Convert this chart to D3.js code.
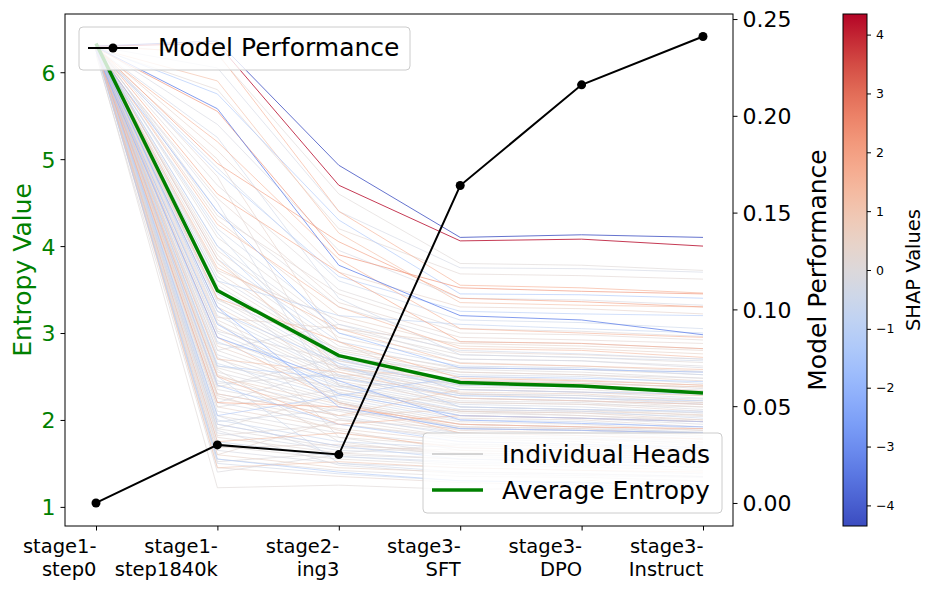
<!DOCTYPE html>
<html>
<head>
<meta charset="utf-8">
<script src="https://cdn.jsdelivr.net/npm/d3@7"></script>
<style>
  body { margin: 0; background: #fff; }
  text { font-family: "DejaVu Sans", sans-serif; }
</style>
</head>
<body>
<svg id="chart" width="933" height="589"></svg>
<script>
// stages on the x axis
const stages = ["stage1-\nstep0", "stage1-\nstep1840k", "stage2-\ning3", "stage3-\nSFT", "stage3-\nDPO", "stage3-\nInstruct"];

// model performance per stage (right axis)
const perfValues = [0.000, 0.030, 0.025, 0.164, 0.216, 0.241];

// mean entropy per stage
const avgEntropy = [6.33, 3.49, 2.74, 2.43, 2.39, 2.31];

// per-head SHAP value, then entropy at each stage
const headShap = [
  0.1, -0.3, 0.2, -0.2, 0.4, -0.5, 0.0, 0.3, -0.1, 0.5,
  -0.4, 0.1, -0.2, 0.2, -0.6, 0.0, 0.4, -0.3, 0.2, -0.1,
  0.3, -0.5, 0.1, -0.2, 0.5, 0.0, -0.4, 0.2, -0.1, 0.3,
  -0.3, 0.1, -0.6, 0.4, 0.0, -0.2, 0.2, -0.5, 0.1, -0.1,
  0.5, -0.3, 0.3, 0.0, -0.4, 0.2, -0.2, 0.4, -0.1, 0.1,
  -0.6, 0.3, 0.0, -0.3, 0.2, -0.5, 0.1, -0.2, 0.5, 0.0,
  -0.4, 0.3, -0.1, 0.1,
  0.2, -0.3, 0.4, -0.2, 0.1, 0.3, -0.5, 0.0, 0.2, -0.1,
  4.3, -4.3, -3.2, 2.4, 1.6, 1.2, -1.4, 1.5, -1.1, 1.8,
  -1.8, 1.3, -1.0, 1.1, -2.2, 1.4, -1.6, 1.0, -1.2, 1.7,
  -0.9, 1.2, -1.3, 0.9, -2.0, 2.0, -0.8, 0.8,
  0.2, -0.3, 0.1, -0.1, 0.4, -0.2, 0.3, 0.0, -0.4, 0.2,
  -0.1, 0.5, -0.5, 0.1, -0.2, 0.3, 0.0, -0.3, 0.4, -0.1,
  0.2, -0.4, 0.1, -0.2,
  1.1, -1.0, 0.9, -1.2, 1.3, -0.9
];

const headEntropy = [
  [6.32, 6.20, 4.60, 3.80, 3.78, 3.72],
  [6.30, 6.05, 4.40, 3.75, 3.74, 3.70],
  [6.28, 5.80, 4.20, 3.68, 3.66, 3.62],
  [6.31, 5.40, 3.95, 3.40, 3.38, 3.32],
  [6.29, 5.10, 3.70, 3.30, 3.28, 3.22],
  [6.27, 4.90, 3.60, 3.15, 3.12, 3.05],
  [6.30, 4.70, 3.50, 3.05, 3.02, 2.96],
  [6.26, 4.55, 3.35, 2.95, 2.92, 2.88],
  [6.31, 4.40, 3.30, 2.90, 2.88, 2.82],
  [6.28, 4.30, 3.20, 2.85, 2.82, 2.76],
  [6.25, 4.20, 3.10, 2.80, 2.76, 2.70],
  [6.30, 4.10, 3.05, 2.75, 2.72, 2.66],
  [6.29, 4.00, 3.00, 2.70, 2.68, 2.60],
  [6.27, 3.95, 2.95, 2.66, 2.62, 2.56],
  [6.32, 3.85, 2.90, 2.62, 2.60, 2.52],
  [6.28, 3.80, 2.85, 2.58, 2.55, 2.48],
  [6.26, 3.70, 2.80, 2.55, 2.52, 2.45],
  [6.30, 3.65, 2.78, 2.52, 2.50, 2.42],
  [6.29, 3.60, 2.75, 2.50, 2.46, 2.40],
  [6.27, 3.55, 2.70, 2.46, 2.44, 2.36],
  [6.31, 3.50, 2.68, 2.44, 2.40, 2.34],
  [6.28, 3.45, 2.65, 2.40, 2.38, 2.30],
  [6.26, 3.40, 2.62, 2.38, 2.35, 2.28],
  [6.30, 3.35, 2.60, 2.35, 2.32, 2.25],
  [6.29, 3.30, 2.58, 2.32, 2.30, 2.22],
  [6.27, 3.25, 2.55, 2.30, 2.28, 2.20],
  [6.32, 3.20, 2.52, 2.28, 2.25, 2.18],
  [6.28, 3.15, 2.50, 2.25, 2.22, 2.15],
  [6.25, 3.10, 2.48, 2.22, 2.20, 2.12],
  [6.30, 3.05, 2.45, 2.20, 2.18, 2.10],
  [6.29, 3.00, 2.42, 2.18, 2.15, 2.08],
  [6.27, 2.95, 2.40, 2.15, 2.12, 2.05],
  [6.31, 2.90, 2.38, 2.12, 2.10, 2.02],
  [6.28, 2.85, 2.35, 2.10, 2.08, 2.00],
  [6.26, 2.80, 2.32, 2.08, 2.05, 1.98],
  [6.30, 2.75, 2.30, 2.05, 2.02, 1.95],
  [6.29, 2.70, 2.28, 2.02, 2.00, 1.92],
  [6.27, 2.65, 2.25, 2.00, 1.98, 1.90],
  [6.32, 2.60, 2.22, 1.98, 1.95, 1.88],
  [6.28, 2.55, 2.20, 1.95, 1.92, 1.85],
  [6.25, 2.50, 2.18, 1.92, 1.90, 1.82],
  [6.30, 2.45, 2.15, 1.90, 1.88, 1.80],
  [6.29, 2.40, 2.12, 1.88, 1.85, 1.78],
  [6.27, 2.35, 2.10, 1.85, 1.82, 1.75],
  [6.31, 2.30, 2.05, 1.82, 1.80, 1.72],
  [6.28, 2.25, 2.00, 1.80, 1.78, 1.70],
  [6.26, 2.20, 1.95, 1.78, 1.75, 1.68],
  [6.30, 2.15, 1.90, 1.75, 1.72, 1.65],
  [6.29, 2.10, 1.85, 1.72, 1.70, 1.62],
  [6.27, 2.05, 1.80, 1.70, 1.68, 1.60],
  [6.32, 2.00, 1.75, 1.68, 1.65, 1.58],
  [6.28, 1.95, 1.70, 1.65, 1.62, 1.55],
  [6.25, 1.90, 1.68, 1.62, 1.60, 1.52],
  [6.30, 1.85, 1.65, 1.60, 1.58, 1.50],
  [6.29, 1.80, 1.62, 1.55, 1.55, 1.48],
  [6.27, 1.75, 1.58, 1.52, 1.50, 1.45],
  [6.31, 1.70, 1.55, 1.48, 1.46, 1.42],
  [6.28, 1.65, 1.50, 1.45, 1.42, 1.38],
  [6.26, 1.60, 1.45, 1.40, 1.38, 1.35],
  [6.30, 1.55, 1.42, 1.35, 1.34, 1.30],
  [6.29, 1.50, 1.38, 1.30, 1.28, 1.26],
  [6.27, 1.45, 1.35, 1.28, 1.25, 1.22],
  [6.20, 1.40, 1.60, 1.55, 1.52, 1.50],
  [6.22, 1.22, 1.25, 1.20, 1.22, 1.20],
  [6.30, 4.80, 2.40, 2.10, 2.05, 2.00],
  [6.28, 4.50, 2.20, 1.90, 1.88, 1.85],
  [6.26, 5.00, 2.90, 2.30, 2.25, 2.20],
  [6.29, 2.20, 2.60, 2.40, 2.38, 2.34],
  [6.27, 1.90, 2.30, 2.20, 2.18, 2.15],
  [6.31, 1.60, 2.00, 1.90, 1.88, 1.85],
  [6.25, 2.50, 1.50, 1.40, 1.38, 1.35],
  [6.30, 3.30, 1.80, 1.60, 1.58, 1.55],
  [6.28, 3.90, 2.50, 2.60, 2.58, 2.55],
  [6.26, 2.80, 3.10, 2.70, 2.68, 2.62],
  [6.30, 6.33, 4.70, 4.06, 4.08, 4.00],
  [6.30, 6.36, 4.93, 4.10, 4.13, 4.10],
  [6.29, 5.58, 3.78, 3.20, 3.15, 2.98],
  [6.28, 5.55, 3.90, 3.52, 3.48, 3.45],
  [6.30, 6.22, 4.40, 3.55, 3.52, 3.46],
  [6.28, 5.90, 4.15, 3.35, 3.32, 3.30],
  [6.29, 5.75, 4.30, 3.45, 3.44, 3.40],
  [6.27, 5.20, 3.85, 3.05, 3.00, 2.95],
  [6.26, 4.85, 3.65, 3.25, 3.22, 3.20],
  [6.30, 4.60, 3.70, 2.90, 2.88, 2.82],
  [6.25, 4.40, 3.00, 2.60, 2.58, 2.55],
  [6.29, 4.25, 3.30, 2.82, 2.80, 2.72],
  [6.28, 4.00, 2.70, 2.35, 2.32, 2.30],
  [6.27, 3.75, 3.05, 2.65, 2.62, 2.58],
  [6.24, 2.95, 2.45, 2.00, 1.96, 1.92],
  [6.31, 3.40, 2.90, 2.48, 2.45, 2.40],
  [6.26, 3.10, 2.30, 2.05, 2.02, 1.98],
  [6.28, 2.70, 2.55, 2.25, 2.22, 2.18],
  [6.30, 2.40, 1.95, 1.75, 1.72, 1.68],
  [6.27, 2.20, 2.15, 1.95, 1.92, 1.90],
  [6.29, 1.95, 1.70, 1.55, 1.52, 1.50],
  [6.26, 1.75, 1.85, 1.68, 1.65, 1.62],
  [6.25, 1.55, 1.40, 1.30, 1.28, 1.25],
  [6.30, 1.45, 1.52, 1.45, 1.42, 1.40],
  [6.28, 3.30, 2.15, 1.90, 1.88, 1.85],
  [6.29, 4.95, 4.05, 3.40, 3.36, 3.30],
  [6.27, 3.60, 3.20, 3.10, 3.05, 3.00],
  [6.30, 2.30, 2.05, 2.35, 2.32, 2.28],
  [6.29, 3.12, 2.20, 1.95, 1.92, 1.88],
  [6.27, 2.88, 2.62, 2.30, 2.28, 2.24],
  [6.31, 2.62, 2.38, 2.45, 2.42, 2.38],
  [6.28, 2.42, 2.52, 2.15, 2.12, 2.08],
  [6.26, 2.28, 1.88, 1.65, 1.62, 1.60],
  [6.30, 3.52, 2.40, 2.05, 2.02, 1.98],
  [6.29, 3.72, 3.15, 2.78, 2.75, 2.70],
  [6.27, 2.15, 2.35, 2.10, 2.08, 2.04],
  [6.32, 1.98, 2.12, 1.92, 1.90, 1.86],
  [6.28, 1.82, 1.95, 1.80, 1.78, 1.74],
  [6.25, 3.02, 2.68, 2.40, 2.38, 2.32],
  [6.30, 2.52, 2.05, 2.12, 2.10, 2.06],
  [6.29, 4.15, 2.60, 2.25, 2.22, 2.18],
  [6.27, 3.38, 2.82, 2.60, 2.58, 2.52],
  [6.31, 2.72, 2.02, 1.85, 1.82, 1.78],
  [6.28, 1.68, 1.72, 1.62, 1.60, 1.58],
  [6.26, 1.52, 1.62, 1.72, 1.70, 1.66],
  [6.30, 2.05, 1.58, 1.50, 1.48, 1.46],
  [6.29, 3.18, 3.05, 2.88, 2.85, 2.80],
  [6.27, 2.38, 2.72, 2.55, 2.52, 2.48],
  [6.32, 4.35, 3.45, 3.00, 2.98, 2.92],
  [6.28, 5.25, 3.40, 2.75, 2.72, 2.68],
  [6.25, 2.58, 1.75, 1.58, 1.55, 1.52],
  [6.30, 1.88, 1.48, 1.38, 1.36, 1.34],
  [6.29, 2.95, 2.20, 1.85, 1.82, 1.78],
  [6.27, 2.62, 2.48, 2.28, 2.25, 2.22],
  [6.31, 3.85, 2.60, 2.45, 2.42, 2.38],
  [6.28, 2.05, 2.28, 2.50, 2.48, 2.44],
  [6.26, 2.50, 1.95, 2.05, 2.02, 1.98],
  [6.30, 3.25, 2.65, 2.15, 2.12, 2.10]
];

const entropyTicks = [1, 2, 3, 4, 5, 6];
const perfTicks = [0.00, 0.05, 0.10, 0.15, 0.20, 0.25];
const shapTicks = [-4, -3, -2, -1, 0, 1, 2, 3, 4];

const svg = d3.select("#chart");
const plot = {left: 65, right: 733, top: 14, bottom: 526};

// scales
const x = d3.scalePoint().domain(d3.range(stages.length))
    .range([96, 703]);
const yL = d3.scaleLinear().domain([0.78, 6.67]).range([plot.bottom, plot.top]);
const yR = d3.scaleLinear().domain([-0.0119, 0.2526]).range([plot.bottom, plot.top]);

// coolwarm-ish colormap
const coolwarm = d3.interpolateRgbBasis(["#3b4cc0", "#5a78e4", "#7b9ff9", "#9ebeff", "#c0d4f5",
    "#dddcdc", "#f2cbb7", "#f7ac8e", "#ee8468", "#d65244", "#b40426"]);
const shapMax = 4.35;
const shapScale = d3.scaleLinear().domain([-shapMax, shapMax]).range([0, 1]);

svg.append("defs").append("clipPath").attr("id", "plotclip")
    .append("rect").attr("x", plot.left).attr("y", plot.top)
    .attr("width", plot.right - plot.left).attr("height", plot.bottom - plot.top);

const g = svg.append("g").attr("clip-path", "url(#plotclip)");

//Individual heads, strongest drawn last
let heads = headEntropy.map((vals, i) => ({vals: vals, shap: headShap[i]}));
heads.sort((a, b) => Math.abs(a.shap) - Math.abs(b.shap));

const line = d3.line().x((d, i) => x(i)).y(d => yL(d));

g.selectAll(".head").data(heads).enter().append("path")
    .attr("class", "head")
    .attr("d", d => line(d.vals))
    .attr("fill", "none")
    .attr("stroke", d => coolwarm(shapScale(d.shap)))
    .attr("stroke-width", 0.8)
    .attr("stroke-opacity", d => Math.abs(d.shap) > 3 ? 1 : 0.8);

// average entropy
g.append("path").attr("d", line(avgEntropy))
    .attr("fill", "none").attr("stroke", "#008000").attr("stroke-width", 3.5);

// model performance
const perfLine = d3.line().x((d, i) => x(i)).y(d => yR(d));
g.append("path").attr("d", perfLine(perfValues))
    .attr("fill", "none").attr("stroke", "#000").attr("stroke-width", 2);
g.selectAll(".perfDot").data(perfValues).enter().append("circle")
    .attr("cx", (d, i) => x(i)).attr("cy", d => yR(d)).attr("r", 4.5).attr("fill", "#000");

// frame
svg.append("rect").attr("x", plot.left).attr("y", plot.top)
    .attr("width", plot.right - plot.left).attr("height", plot.bottom - plot.top)
    .attr("fill", "none").attr("stroke", "#000").attr("stroke-width", 1);

// left axis
const axL = svg.append("g").attr("transform", `translate(${plot.left},0)`)
    .call(d3.axisLeft(yL).tickValues(entropyTicks).tickSize(4.5).tickPadding(5).tickFormat(d3.format("d")));
axL.select(".domain").remove();
axL.selectAll("text").attr("font-size", 22).attr("fill", "#008000").attr("dy", "0.36em");

// right axis
const axR = svg.append("g").attr("transform", `translate(${plot.right},0)`)
    .call(d3.axisRight(yR).tickValues(perfTicks).tickSize(4.5).tickPadding(5).tickFormat(d3.format(".2f")));
axR.select(".domain").remove();
axR.selectAll("text").attr("font-size", 22).attr("fill", "#000").attr("dy", "0.36em");

// bottom axis
const axB = svg.append("g").attr("transform", `translate(0,${plot.bottom})`)
    .call(d3.axisBottom(x).tickSize(4.5).tickFormat(""));
axB.select(".domain").remove();
axB.selectAll(".tick").each(function(d) {
    const t = d3.select(this).append("text")
        .attr("text-anchor", "end").attr("font-size", 19.5).attr("fill", "#000")
        .attr("x", 0).attr("y", 27);
    stages[d].split("\n").forEach((s, k) => {
        t.append("tspan").attr("x", 0).attr("dy", k === 0 ? 0 : 22.5).text(s);
    });
});

// axis titles
svg.append("text").attr("transform", "translate(31,270) rotate(-90)")
    .attr("text-anchor", "middle").attr("font-size", 25).attr("fill", "#008000").text("Entropy Value");
svg.append("text").attr("transform", "translate(826,270) rotate(-90)")
    .attr("text-anchor", "middle").attr("font-size", 25).attr("fill", "#000").text("Model Performance");

// legend: model performance
const leg1 = svg.append("g");
leg1.append("rect").attr("x", 79).attr("y", 27).attr("width", 331).attr("height", 43).attr("rx", 4)
    .attr("fill", "#fff").attr("fill-opacity", 0.8).attr("stroke", "#ccc");
leg1.append("line").attr("x1", 88).attr("x2", 138).attr("y1", 48).attr("y2", 48)
    .attr("stroke", "#000").attr("stroke-width", 2);
leg1.append("circle").attr("cx", 113).attr("cy", 48).attr("r", 4.5).attr("fill", "#000");
leg1.append("text").attr("x", 158).attr("y", 56).attr("font-size", 25).text("Model Performance");

// legend: heads and average
const leg2 = svg.append("g");
leg2.append("rect").attr("x", 423).attr("y", 433).attr("width", 299).attr("height", 80).attr("rx", 4)
    .attr("fill", "#fff").attr("fill-opacity", 0.8).attr("stroke", "#ccc");
leg2.append("line").attr("x1", 432).attr("x2", 483).attr("y1", 454).attr("y2", 454)
    .attr("stroke", "#999").attr("stroke-width", 0.8);
leg2.append("text").attr("x", 502).attr("y", 463).attr("font-size", 25).text("Individual Heads");
leg2.append("line").attr("x1", 432).attr("x2", 483).attr("y1", 490).attr("y2", 490)
    .attr("stroke", "#008000").attr("stroke-width", 3.5);
leg2.append("text").attr("x", 502).attr("y", 499).attr("font-size", 25).text("Average Entropy");

// colorbar
const cb = {x: 843, w: 24, top: 14, bottom: 526};
const grad = svg.select("defs").append("linearGradient").attr("id", "cbgrad")
    .attr("x1", 0).attr("x2", 0).attr("y1", 1).attr("y2", 0);
d3.range(0, 1.0001, 0.05).forEach(t => {
    grad.append("stop").attr("offset", t).attr("stop-color", coolwarm(t));
});
svg.append("rect").attr("x", cb.x).attr("y", cb.top).attr("width", cb.w).attr("height", cb.bottom - cb.top)
    .attr("fill", "url(#cbgrad)").attr("stroke", "#000").attr("stroke-width", 1);
const yC = d3.scaleLinear().domain([-shapMax, shapMax]).range([cb.bottom, cb.top]);
const axC = svg.append("g").attr("transform", `translate(${cb.x + cb.w},0)`)
    .call(d3.axisRight(yC).tickValues(shapTicks).tickSize(4).tickPadding(5)
        .tickFormat(d => d < 0 ? "\u2212" + Math.abs(d) : d));
axC.select(".domain").remove();
axC.selectAll("text").attr("font-size", 12.5).attr("fill", "#000");
svg.append("text").attr("transform", "translate(920,270) rotate(-90)")
    .attr("text-anchor", "middle").attr("font-size", 19.5).attr("fill", "#000").text("SHAP Values");
</script>
</body>
</html>
